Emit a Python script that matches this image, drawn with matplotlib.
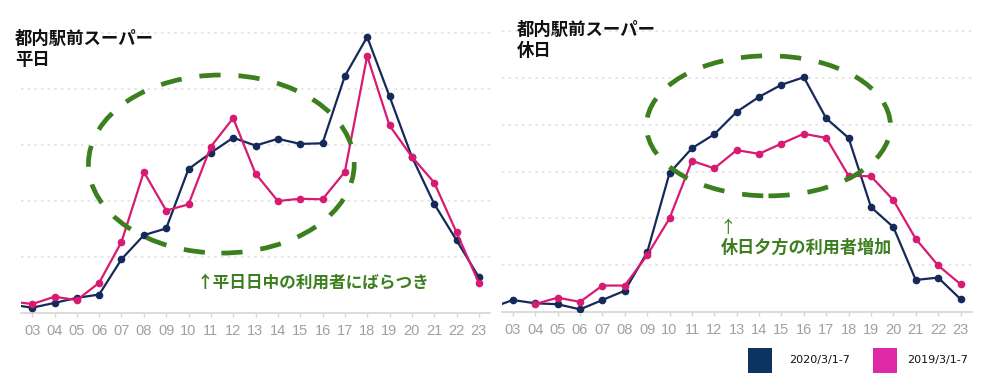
import numpy as np
import matplotlib
matplotlib.use("Agg")
import matplotlib.pyplot as plt
from matplotlib.patches import Ellipse, Rectangle

plt.rcParams['font.family'] = ['Noto Sans CJK JP', 'DejaVu Sans']

hours = list(range(2, 24))
tick_hours = list(range(3, 24))
tick_labels = [f"{h:02d}" for h in tick_hours]

# Weekday (平日)
weekday_2020 = [0.155, 0.095, 0.18, 0.27, 0.33, 0.96, 1.39, 1.51, 2.57, 2.86, 3.13,
                2.99, 3.11, 3.02, 3.03, 4.23, 4.93, 3.87, 2.79, 1.95, 1.30, 0.64]
weekday_2019 = [0.21, 0.16, 0.29, 0.23, 0.54, 1.27, 2.52, 1.83, 1.94, 2.97, 3.48,
                2.49, 2.00, 2.04, 2.03, 2.52, 4.59, 3.35, 2.79, 2.33, 1.44, 0.54]

# Holiday (休日)
holiday_2020 = [0.08, 0.25, 0.18, 0.16, 0.05, 0.25, 0.45, 1.27, 2.97, 3.50, 3.80,
                4.28, 4.60, 4.86, 5.02, 4.14, 3.72, 2.24, 1.81, 0.68, 0.73, 0.27]
holiday_2019 = [np.nan, np.nan, 0.165, 0.30, 0.21, 0.56, 0.56, 1.21, 2.00, 3.23, 3.07,
                3.46, 3.38, 3.60, 3.81, 3.72, 2.91, 2.90, 2.39, 1.56, 0.99, 0.59]

series_labels = ["2020/3/1-7", "2019/3/1-7"]

NAVY = '#15295a'
PINK = '#d81b72'
NAVY_LEG = '#0b3461'
PINK_LEG = '#de2aa6'
GREEN = '#3b7f1e'
GRID = '#e2e2e2'

fig = plt.figure(figsize=(10, 3.83), dpi=100)


def setup(ax, ytop, ngrid):
    ax.set_xlim(2.5, 23.5)
    ax.set_ylim(0, ytop)
    ax.set_xticks(tick_hours)
    ax.set_xticklabels(tick_labels, fontfamily='Liberation Sans')
    ax.set_yticks(range(1, ngrid + 1))
    ax.tick_params(axis='y', left=False, labelleft=False)
    ax.tick_params(axis='x', colors='#d5d5d5', labelcolor='#a0a0a0',
                   labelsize=10.5, length=3, width=1, pad=5)
    for s in ['top', 'right', 'left']:
        ax.spines[s].set_visible(False)
    ax.spines['bottom'].set_color('#d5d5d5')
    ax.spines['bottom'].set_linewidth(1.2)
    ax.grid(axis='y', color=GRID, linestyle=(0, (1.5, 2.5)), linewidth=1.2)
    ax.set_axisbelow(True)


def draw(ax, s20, s19):
    ax.plot(hours, s20, color=NAVY, lw=1.6, marker='o', ms=4.5, zorder=3, clip_on=True)
    ax.plot(hours, s19, color=PINK, lw=1.6, marker='o', ms=4.5, zorder=4, clip_on=True)


# Left: weekday
ax1 = fig.add_axes([0.021, 1 - 313 / 383, 0.469, 303 / 383])
setup(ax1, 303 / 56, 5)
draw(ax1, weekday_2020, weekday_2019)
ax1.add_patch(Ellipse((11.47, 2.66), 11.9, 3.18, fill=False, edgecolor=GREEN,
                      lw=3.4, linestyle=(0, (4.5, 3.8)), zorder=6))
ax1.text(10.37, 0.54, "↑平日日中の利用者にばらつき", color=GREEN, fontsize=12,
         fontweight='bold', va='center', ha='left', zorder=7)

# Right: holiday
ax2 = fig.add_axes([0.5017, 1 - 311.7 / 383, 0.47, 301.7 / 383])
setup(ax2, 301.7 / 46.7, 6)
draw(ax2, holiday_2020, holiday_2019)
ax2.add_patch(Ellipse((14.42, 3.98), 10.9, 3.0, fill=False, edgecolor=GREEN,
                      lw=3.4, linestyle=(0, (4.5, 3.8)), zorder=6))
ax2.text(12.6, 1.79, "↑", color=GREEN, fontsize=12, va='center', ha='center', zorder=7)
ax2.text(12.27, 1.36, "休日夕方の利用者増加", color=GREEN, fontsize=12.3,
         fontweight='bold', va='center', ha='left', zorder=7)

# Titles
fig.text(0.015, 1 - 30 / 383, "都内駅前スーパー\n平日", fontsize=12.5, fontweight='bold',
         va='top', ha='left', color='#111111', linespacing=1.2)
fig.text(0.5167, 1 - 21 / 383, "都内駅前スーパー\n休日", fontsize=12.5, fontweight='bold',
         va='top', ha='left', color='#111111', linespacing=1.2)

# Legend
for x0, col, lab, tx in [(0.748, NAVY_LEG, series_labels[0], 0.789),
                         (0.873, PINK_LEG, series_labels[1], 0.907)]:
    fig.add_artist(Rectangle((x0, 1 - 373 / 383), 0.024, 25 / 383,
                             transform=fig.transFigure, facecolor=col, edgecolor='none'))
    fig.text(tx, 1 - 360 / 383, lab, fontsize=8, va='center', ha='left',
             color='#111111', fontfamily='DejaVu Sans')

fig.savefig("out.png", dpi=100)
